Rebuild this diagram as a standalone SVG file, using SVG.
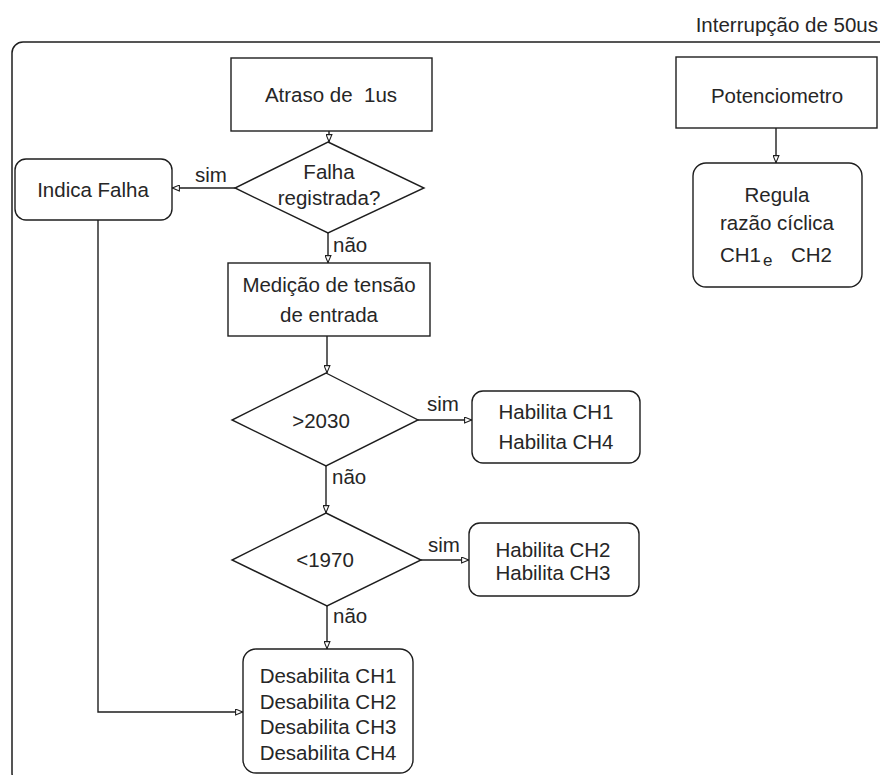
<svg xmlns="http://www.w3.org/2000/svg" width="880" height="775" viewBox="0 0 880 775">
  <style>
    .shape { fill: #ffffff; stroke: #1e1e1e; stroke-width: 1.4; }
    .wire { fill: none; stroke: #1e1e1e; stroke-width: 1.4; marker-end: url(#tip); }
    text { font-family: "Liberation Sans", Arial, sans-serif; font-size: 20.5px; fill: #262626; }
    .c { text-anchor: middle; }
    .pre { white-space: pre; }
  </style>
  <defs>
    <marker id="tip" viewBox="0 0 8 7" refX="8" refY="3.5" markerWidth="8" markerHeight="7" markerUnits="userSpaceOnUse" orient="auto">
      <path d="M0.6,0.6 L7.6,3.5 L0.6,6.4 Z" fill="#ffffff" stroke="#1e1e1e" stroke-width="1.1"/>
    </marker>
  </defs>

  <rect width="880" height="775" fill="#ffffff"/>

  <!-- interrupt frame -->
  <g id="frame">
    <rect x="12" y="42" width="900" height="742" rx="11" fill="none" stroke="#1e1e1e" stroke-width="1.5"/>
    <text x="878" y="32" text-anchor="end">Interrupção de 50us</text>
  </g>

  <!-- connectors -->
  <g id="connectors">
    <path class="wire" d="M329,131 V142"/>
    <path class="wire" d="M235,188 H172"/>
    <path class="wire" d="M328,233 V263"/>
    <path class="wire" d="M327,336 V373"/>
    <path class="wire" d="M418,420 H472"/>
    <path class="wire" d="M326,466 V513"/>
    <path class="wire" d="M421,560 H469"/>
    <path class="wire" d="M327,606 V649"/>
    <path class="wire" d="M98,220 V712 H243"/>
    <path class="wire" d="M776,128 V163"/>
    <text x="195" y="182">sim</text>
    <text x="333" y="252">não</text>
    <text x="427" y="411">sim</text>
    <text x="332" y="484">não</text>
    <text x="428" y="552">sim</text>
    <text x="333" y="623">não</text>
  </g>

  <g id="atraso">
    <rect class="shape" x="231" y="58" width="201" height="73"/>
    <text class="c pre" x="331" y="102">Atraso de  1us</text>
  </g>

  <g id="falha-registrada">
    <polygon class="shape" points="328,142 424,188 328,233 235,188"/>
    <text class="c" x="329" y="179">Falha</text>
    <text class="c" x="329" y="205">registrada?</text>
  </g>

  <g id="indica-falha">
    <rect class="shape" x="15" y="159" width="157" height="61" rx="11"/>
    <text class="c" x="93" y="197">Indica Falha</text>
  </g>

  <g id="medicao">
    <rect class="shape" x="228" y="263" width="202" height="73"/>
    <text class="c" x="329" y="292">Medição de tensão</text>
    <text class="c" x="329" y="322">de entrada</text>
  </g>

  <g id="maior-2030">
    <polygon class="shape" points="326,373 418,420 326,466 232,420"/>
    <text class="c" x="321" y="428">&gt;2030</text>
  </g>

  <g id="habilita-ch1-ch4">
    <rect class="shape" x="472" y="391" width="168" height="72" rx="11"/>
    <text class="c" x="556" y="419">Habilita CH1</text>
    <text class="c" x="556" y="449">Habilita CH4</text>
  </g>

  <g id="menor-1970">
    <polygon class="shape" points="326,513 421,560 327,606 232,560"/>
    <text class="c" x="325" y="567">&lt;1970</text>
  </g>

  <g id="habilita-ch2-ch3">
    <rect class="shape" x="469" y="523" width="170" height="73" rx="11"/>
    <text class="c" x="553" y="557">Habilita CH2</text>
    <text class="c" x="553" y="580">Habilita CH3</text>
  </g>

  <g id="desabilita">
    <rect class="shape" x="243" y="649" width="170" height="124" rx="13"/>
    <text class="c" x="328" y="683">Desabilita CH1</text>
    <text class="c" x="328" y="709">Desabilita CH2</text>
    <text class="c" x="328" y="734">Desabilita CH3</text>
    <text class="c" x="328" y="760">Desabilita CH4</text>
  </g>

  <g id="potenciometro">
    <rect class="shape" x="676" y="57" width="201" height="71"/>
    <text class="c" x="777" y="103">Potenciometro</text>
  </g>

  <g id="regula">
    <rect class="shape" x="693" y="163" width="169" height="124" rx="13"/>
    <text class="c" x="777" y="202">Regula</text>
    <text class="c" x="777" y="230">razão cíclica</text>
    <text font-size="19px"><tspan x="720" y="262">CH1</tspan><tspan x="763" y="266" font-size="17px">e</tspan><tspan x="791" y="262">CH2</tspan></text>
  </g>
</svg>
